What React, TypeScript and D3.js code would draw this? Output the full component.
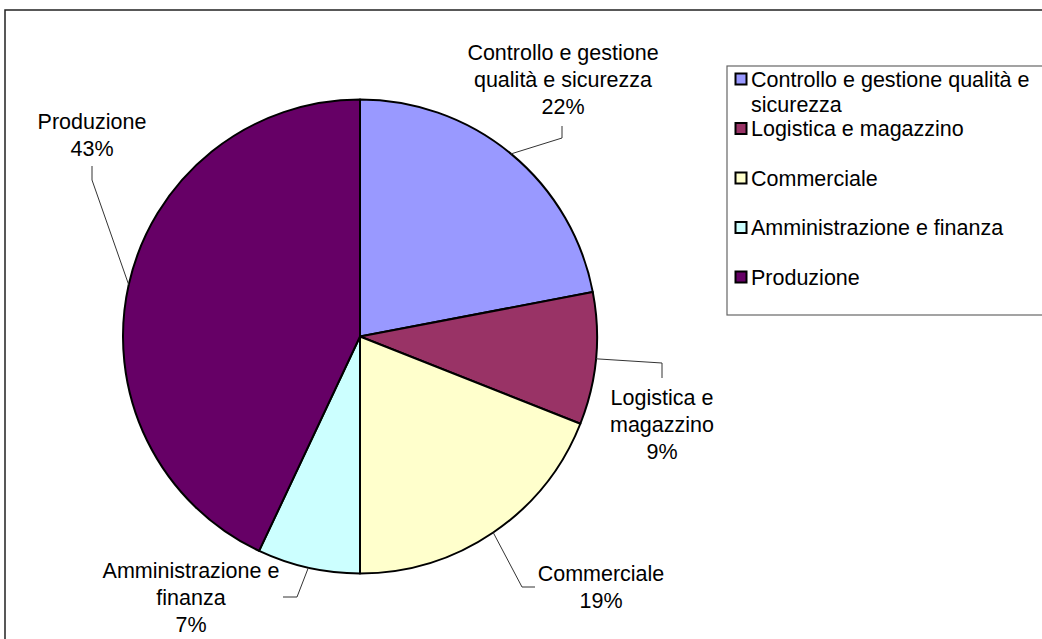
import { useEffect, useRef } from "react";
import * as d3 from "d3";

// reparti e quote (%)
const categories = [
  "Controllo e gestione qualità e sicurezza",
  "Logistica e magazzino",
  "Commerciale",
  "Amministrazione e finanza",
  "Produzione",
];
const values = [22, 9, 19, 7, 43];
const colors = ["#9999FF", "#993366", "#FFFFCC", "#CCFFFF", "#660066"];

// righe delle etichette sulla torta e della legenda
const labelLines = [
  ["Controllo e gestione", "qualità e sicurezza"],
  ["Logistica e", "magazzino"],
  ["Commerciale"],
  ["Amministrazione e", "finanza"],
  ["Produzione"],
];
const legendLines = [
  ["Controllo e gestione qualità e", "sicurezza"],
  ["Logistica e magazzino"],
  ["Commerciale"],
  ["Amministrazione e finanza"],
  ["Produzione"],
];

// posizione etichette: centro testo x, centro prima riga y, gomito e fine della linea guida
const labelLayout = [
  { x: 563, y: 52, bend: [562, 138], end: [562, 126] },
  { x: 662, y: 397, bend: [662, 363], end: [662, 378] },
  { x: 601, y: 573, bend: [522, 587], end: [535, 587] },
  { x: 191, y: 570, bend: [297, 597], end: [283, 597] },
  { x: 92, y: 121, bend: [92, 180], end: [92, 166] },
];

const W = 1042;
const H = 639;
const FONT = "'Liberation Sans', Arial, sans-serif";

const App = () => {
  const ref = useRef<SVGSVGElement | null>(null);

  useEffect(() => {
    if (!ref.current) return;
    const svg = d3.select(ref.current);
    svg.selectAll("*").remove();

    const cx = 360;
    const cy = 336.5;
    const r = 237;
    const fontSize = 21.5;
    const lineH = 27;

    svg.append("rect")
      .attr("width", W).attr("height", H).attr("fill", "#fff");

    // cornice del grafico
    svg.append("rect")
      .attr("x", 5).attr("y", 10)
      .attr("width", W + 50).attr("height", H + 50)
      .attr("fill", "none")
      .attr("stroke", "#222")
      .attr("stroke-width", 1.5);

    const pie = d3.pie<number>().sort(null).value(d => d);
    const arcs = pie(values);
    const arc = d3.arc<d3.PieArcDatum<number>>().innerRadius(0).outerRadius(r);
    const edge = d3.arc<d3.PieArcDatum<number>>().innerRadius(r).outerRadius(r);

    const g = svg.append("g").attr("transform", `translate(${cx},${cy})`);
    g.selectAll("path")
      .data(arcs)
      .join("path")
      .attr("d", arc)
      .attr("fill", (_, i) => colors[i])
      .attr("stroke", "#000")
      .attr("stroke-width", 2)
      .attr("stroke-linejoin", "round");

    // linee guida
    const total = d3.sum(values);
    arcs.forEach((a, i) => {
      const [ex, ey] = edge.centroid(a);
      const L = labelLayout[i];
      svg.append("polyline")
        .attr("points", `${cx + ex},${cy + ey} ${L.bend[0]},${L.bend[1]} ${L.end[0]},${L.end[1]}`)
        .attr("fill", "none")
        .attr("stroke", "#333")
        .attr("stroke-width", 1);

      const lines = [...labelLines[i], `${Math.round((a.data / total) * 100)}%`];
      const t = svg.append("text")
        .attr("font-family", FONT)
        .attr("font-size", fontSize)
        .attr("fill", "#000")
        .attr("text-anchor", "middle");
      lines.forEach((s, k) => {
        t.append("tspan")
          .attr("x", L.x)
          .attr("y", L.y + k * lineH + 7.5)
          .text(s);
      });
    });

    // legenda
    const lx = 727;
    const ly = 66;
    svg.append("rect")
      .attr("x", lx).attr("y", ly)
      .attr("width", W - lx + 20).attr("height", 249)
      .attr("fill", "#fff")
      .attr("stroke", "#666")
      .attr("stroke-width", 1.2);

    const step = 49.5;
    categories.forEach((_, i) => {
      const yc = 79 + i * step;
      svg.append("rect")
        .attr("x", 735.5).attr("y", yc - 5.5)
        .attr("width", 11).attr("height", 11)
        .attr("fill", colors[i])
        .attr("stroke", "#000")
        .attr("stroke-width", 2);
      const t = svg.append("text")
        .attr("font-family", FONT)
        .attr("font-size", fontSize)
        .attr("fill", "#000");
      legendLines[i].forEach((s, k) => {
        t.append("tspan")
          .attr("x", 751)
          .attr("y", yc + k * 25 + 7.5)
          .text(s);
      });
    });
  }, []);

  return (
    <svg
      ref={ref}
      width={W}
      height={H}
      style={{ position: "absolute", left: 0, top: 0 }}
    />
  );
};

export default App;
